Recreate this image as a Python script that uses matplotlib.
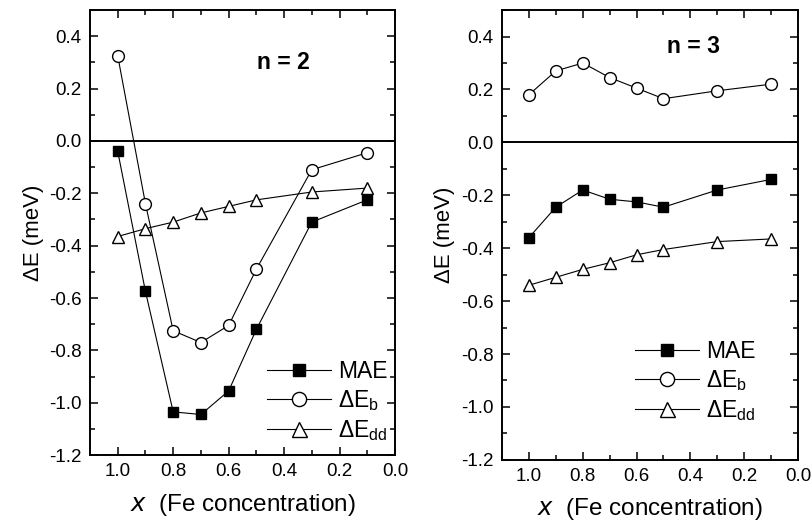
import matplotlib
matplotlib.use("Agg")
import matplotlib.pyplot as plt
from matplotlib.ticker import MultipleLocator

plt.rcParams['font.family'] = ['Liberation Sans', 'DejaVu Sans']
plt.rcParams['mathtext.default'] = 'regular'

x = [1.0, 0.9, 0.8, 0.7, 0.6, 0.5, 0.3, 0.1]

mae_n2 = [-0.04, -0.575, -1.035, -1.045, -0.955, -0.72, -0.31, -0.225]
eb_n2 = [0.325, -0.24, -0.725, -0.77, -0.705, -0.49, -0.11, -0.045]
edd_n2 = [-0.365, -0.335, -0.31, -0.275, -0.25, -0.225, -0.195, -0.18]

mae_n3 = [-0.36, -0.245, -0.18, -0.215, -0.225, -0.245, -0.18, -0.14]
eb_n3 = [0.18, 0.27, 0.30, 0.245, 0.205, 0.165, 0.195, 0.22]
edd_n3 = [-0.54, -0.51, -0.48, -0.455, -0.425, -0.405, -0.375, -0.365]

labels = ['MAE', 'ΔE$_{b}$', 'ΔE$_{dd}$']
panel_titles = ['n = 2', 'n = 3']
xtick_vals = [1.0, 0.8, 0.6, 0.4, 0.2, 0.0]
xtick_labels = ['1.0', '0.8', '0.6', '0.4', '0.2', '0.0']
ytick_vals = [-1.2, -1.0, -0.8, -0.6, -0.4, -0.2, 0.0, 0.2, 0.4]
ytick_labels = ['-1.2', '-1.0', '-0.8', '-0.6', '-0.4', '-0.2', '0.0', '0.2', '0.4']

fig = plt.figure(figsize=(8.11, 5.31), dpi=100)
ax1 = fig.add_axes([0.111, 0.143, 0.376, 0.838])
ax2 = fig.add_axes([0.619, 0.134, 0.365, 0.847])

panels = [
    (ax1, mae_n2, eb_n2, edd_n2, panel_titles[0], (0.548, 0.883), (0.975, 0.028)),
    (ax2, mae_n3, eb_n3, edd_n3, panel_titles[1], (0.558, 0.918), (0.857, 0.082)),
]

for ax, mae, eb, edd, title, tpos, lpos in panels:
    ax.axhline(0, color='black', lw=1.4, zorder=1)
    ax.plot(x, mae, '-', color='black', lw=0.8, marker='s', ms=7.5,
            mfc='black', mec='black', label=labels[0], zorder=3)
    ax.plot(x, eb, '-', color='black', lw=0.8, marker='o', ms=8.5,
            mfc='white', mec='black', mew=1.0, label=labels[1], zorder=3)
    ax.plot(x, edd, '-', color='black', lw=0.8, marker='^', ms=9,
            mfc='white', mec='black', mew=1.0, label=labels[2], zorder=3)
    ax.set_xlim(1.1, 0.0)
    ax.set_ylim(-1.2, 0.5)
    ax.xaxis.set_minor_locator(MultipleLocator(0.1))
    ax.yaxis.set_minor_locator(MultipleLocator(0.1))
    ax.set_xticks(xtick_vals)
    ax.set_xticklabels(xtick_labels)
    ax.set_yticks(ytick_vals)
    ax.set_yticklabels(ytick_labels)
    ax.tick_params(which='both', direction='in', top=True, right=True,
                   labelsize=13.5, width=1.1)
    ax.tick_params(which='major', length=6, pad=6)
    ax.tick_params(which='minor', length=3.5)
    for s in ax.spines.values():
        s.set_linewidth(1.4)
    ax.set_ylabel('ΔE (meV)', fontsize=16, labelpad=4)
    ax.set_xlabel('$\\it{x}$  (Fe concentration)', fontsize=17.5, labelpad=8)
    ax.text(tpos[0], tpos[1], title, transform=ax.transAxes, fontsize=16.5,
            fontweight='bold', va='center', ha='left')
    ax.legend(loc='lower right', frameon=False, fontsize=16.5,
              handlelength=2.8, handletextpad=0.3, labelspacing=0.22,
              markerscale=1.2,
              borderpad=0.0, borderaxespad=0.0, bbox_to_anchor=lpos)

fig.savefig('out.png', dpi=100)
